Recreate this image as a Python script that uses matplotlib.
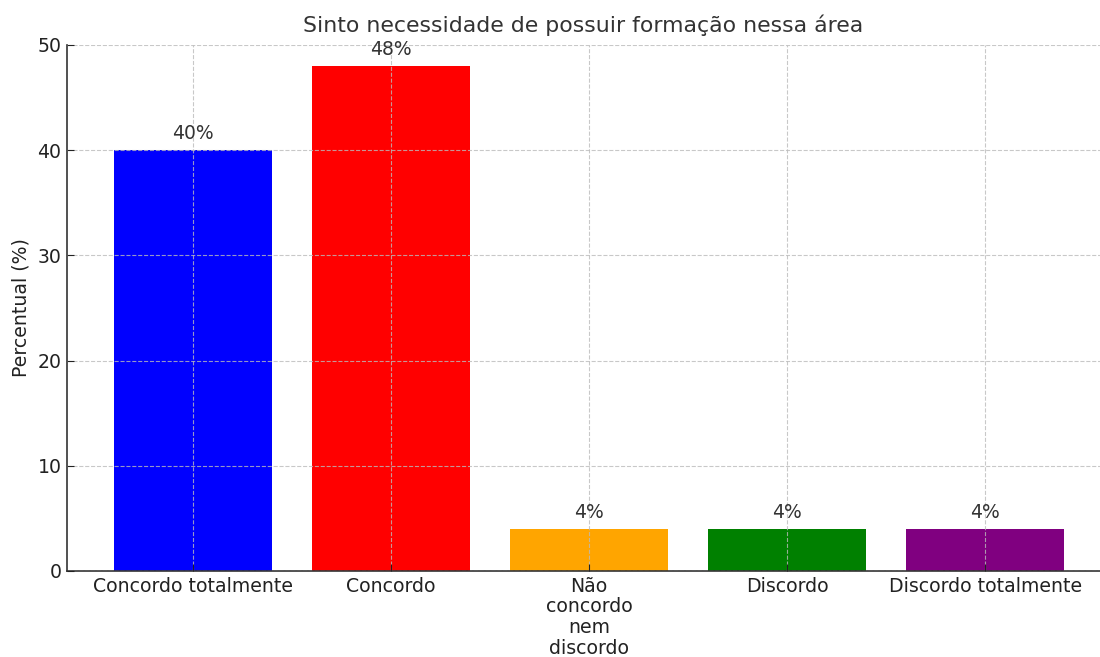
import matplotlib
matplotlib.use("Agg")
import matplotlib.pyplot as plt

categories = ["Concordo totalmente", "Concordo", "Não\nconcordo\nnem\ndiscordo",
              "Discordo", "Discordo totalmente"]
percentages = [40, 48, 4, 4, 4]
bar_colors = ["blue", "red", "orange", "green", "purple"]
yticks = [0, 10, 20, 30, 40, 50]

plt.rcParams["font.family"] = "DejaVu Sans"
text_color = "#333333"

fig = plt.figure(figsize=(11, 6.57), dpi=100)
ax = fig.add_axes([67 / 1100, 1 - 571 / 657, 1 - 67 / 1100, (571 - 45) / 657])

x = range(len(categories))
bars = ax.bar(x, percentages, color=bar_colors, width=0.8, zorder=2)
for b, v in zip(bars, percentages):
    ax.text(b.get_x() + b.get_width() / 2, v + 0.65, f"{v}%", ha="center", va="bottom",
            fontsize=13.5, color=text_color, zorder=3)

ax.set_xlim(-0.636, 4.58)
ax.set_ylim(0, 50)
ax.set_yticks(yticks)
ax.set_xticks(list(x))
ax.set_xticklabels(categories, linespacing=1.12)
ax.tick_params(axis="both", labelsize=13.6, colors="#222222", length=5,
               direction="in", pad=4)
ax.grid(True, linestyle="--", color="#bbbbbb", linewidth=0.8, alpha=0.8, zorder=0)
ax.set_axisbelow(False)
for s in ["top", "right"]:
    ax.spines[s].set_visible(False)
for s in ["left", "bottom"]:
    ax.spines[s].set_color(text_color)
    ax.spines[s].set_linewidth(1.2)

ax.set_ylabel("Percentual (%)", fontsize=13.6, color="#222222", labelpad=5)
ax.set_title("Sinto necessidade de possuir formação nessa área", fontsize=15.8,
             color=text_color, pad=9)

fig.savefig("out.png", dpi=100)
